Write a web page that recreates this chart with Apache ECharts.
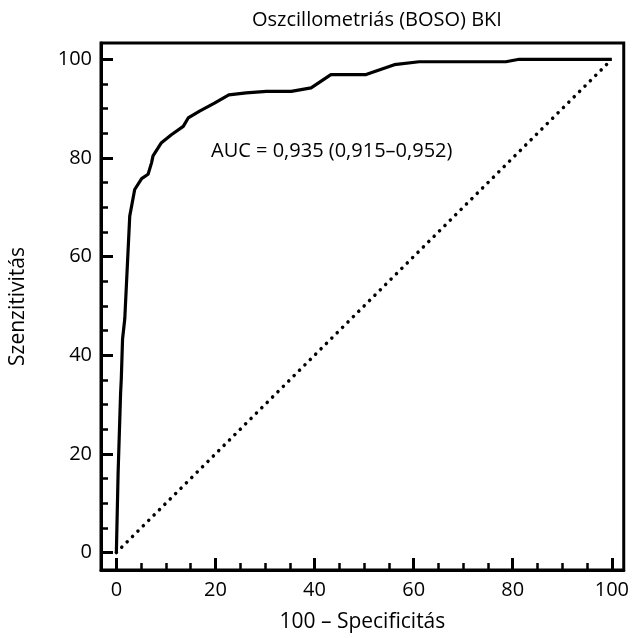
<!DOCTYPE html>
<html>
<head>
<meta charset="utf-8">
<script src="https://cdn.jsdelivr.net/npm/echarts@6/dist/echarts.min.js"></script>
<style>
html,body{margin:0;padding:0;background:#fff;}
#chart{width:632px;height:638px;}
</style>
</head>
<body>
<div id="chart"></div>
<script>
// ROC curve points (100 - specificity, sensitivity)
const fpr = [0, 0.35, 0.85, 1.0, 1.25, 1.7, 2.7, 3.7, 5.1, 6.4, 7.1, 7.4, 9.1, 11.1, 13.5, 14.5, 16.8, 19.8, 22.7, 26.2, 30.3, 35.3, 39.3, 43.3, 50.4, 56.1, 61.1, 78.6, 81.3, 100];
const tpr = [0, 16, 32.2, 35.3, 43.3, 47.4, 68.2, 73.6, 75.8, 76.7, 79.0, 80.4, 83.1, 84.7, 86.4, 88.1, 89.5, 91.1, 92.8, 93.2, 93.5, 93.5, 94.2, 96.9, 96.9, 98.9, 99.5, 99.5, 100, 100];
// Reference diagonal
const refX = [0, 100];
const refY = [0, 100];
// Tick values
const majorTicks = [0, 20, 40, 60, 80, 100];
const minorTicks = [5, 10, 15, 25, 30, 35, 45, 50, 55, 65, 70, 75, 85, 90, 95];

const titleText = 'Oszcillometriás (BOSO) BKI';
const xName = '100 – Specificitás';
const yName = 'Szenzitivitás';
const aucText = 'AUC = 0,935 (0,915–0,952)';

const FONT = '"Open Sans", "Noto Sans", sans-serif';
const XMIN = -3.1, XMAX = 102.4, YMIN = -3.54, YMAX = 103.3;

const chart = echarts.init(document.getElementById('chart'), null, {renderer: 'canvas'});

function majorAxis(isX) {
  return {
    type: 'value',
    min: isX ? XMIN : YMIN,
    max: isX ? XMAX : YMAX,
    position: isX ? 'bottom' : 'left',
    name: isX ? xName : yName,
    nameLocation: 'middle',
    nameGap: isX ? 42 : 72,
    nameRotate: isX ? 0 : 90,
    nameTextStyle: {fontSize: 21, color: '#000', fontFamily: FONT},
    axisLine: {show: true, onZero: false, lineStyle: {color: '#000', width: 3}},
    axisTick: {show: true, inside: true, length: 12, customValues: majorTicks, lineStyle: {color: '#000', width: 3}},
    axisLabel: {show: true, customValues: majorTicks, fontSize: 20, color: '#000', fontFamily: FONT, margin: isX ? 10 : 9},
    splitLine: {show: false}
  };
}
function minorAxis(isX) {
  return {
    type: 'value',
    min: isX ? XMIN : YMIN,
    max: isX ? XMAX : YMAX,
    position: isX ? 'bottom' : 'left',
    axisLine: {show: false, onZero: false},
    axisTick: {show: true, inside: true, length: 7, customValues: minorTicks, lineStyle: {color: '#000', width: 2.5}},
    axisLabel: {show: false},
    splitLine: {show: false}
  };
}

chart.setOption({
  backgroundColor: '#fff',
  animation: false,
  title: {
    text: titleText,
    left: 247,
    top: 5,
    textStyle: {fontSize: 20, fontWeight: 'normal', color: '#000', fontFamily: FONT}
  },
  grid: {left: 101, right: 7, top: 43, bottom: 66, show: true, borderColor: '#000', borderWidth: 3, backgroundColor: 'transparent'},
  xAxis: [majorAxis(true), minorAxis(true)],
  yAxis: [majorAxis(false), minorAxis(false)],
  graphic: [{
    type: 'text',
    left: 211,
    top: 141,
    style: {text: aucText, font: '20px ' + FONT, fill: '#000'}
  }],
  series: [
    {
      type: 'line',
      xAxisIndex: 0, yAxisIndex: 0,
      data: fpr.map((x, i) => [x, tpr[i]]),
      showSymbol: false,
      lineStyle: {color: '#000', width: 3.2, join: 'round'},
      z: 3
    },
    {
      type: 'line',
      xAxisIndex: 0, yAxisIndex: 0,
      data: refX.map((x, i) => [x, refY[i]]),
      showSymbol: false,
      lineStyle: {color: '#000', width: 3.5, type: [0.1, 7.5], cap: 'round'},
      z: 2
    }
  ]
});
</script>
</body>
</html>
